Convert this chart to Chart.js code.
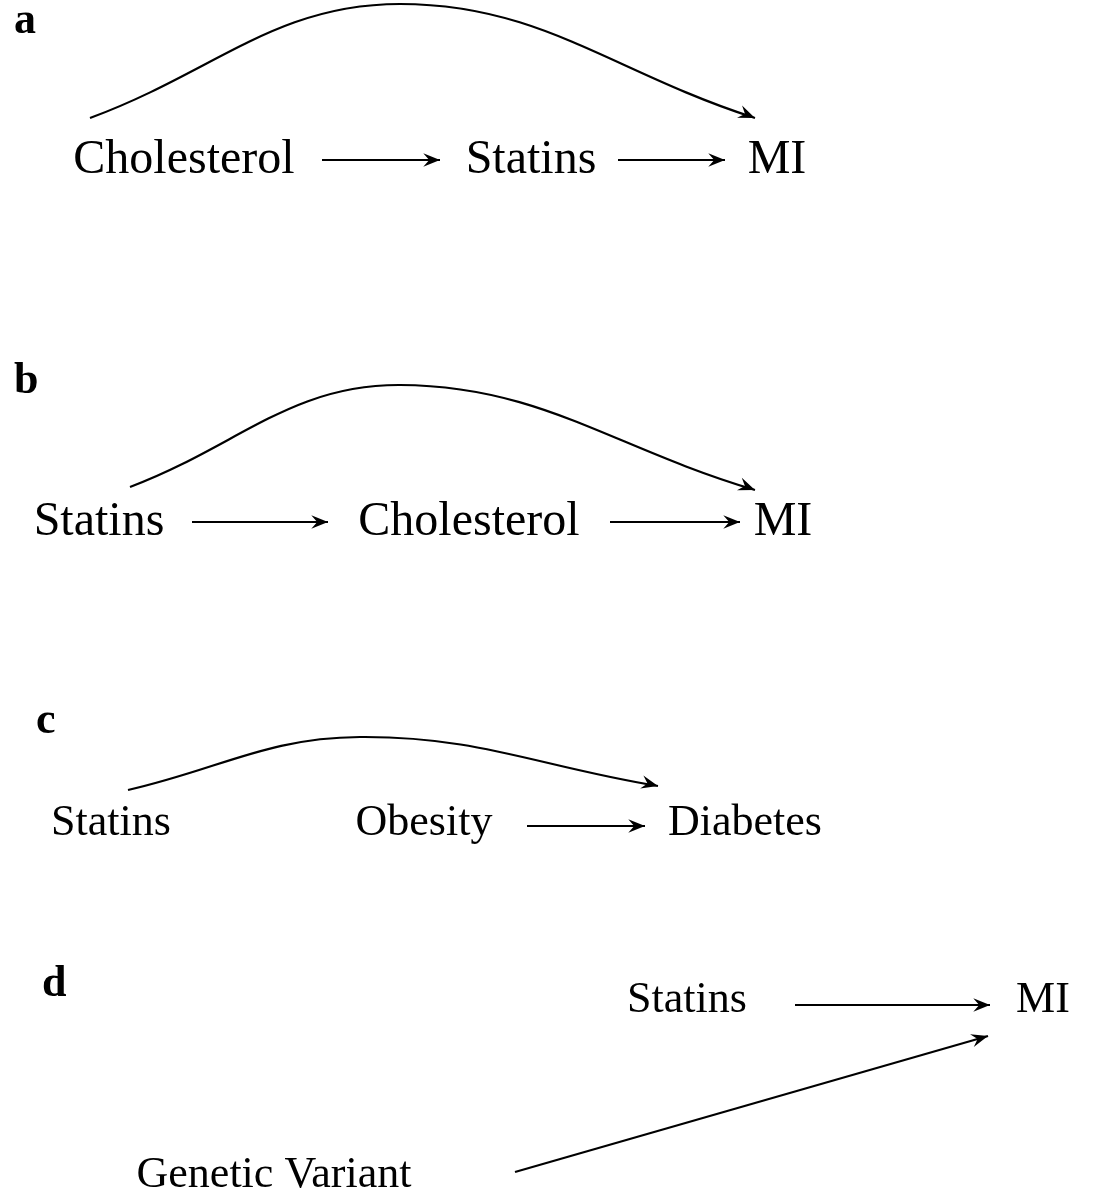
<!DOCTYPE html>
<html><head><meta charset="utf-8">
<script src="https://cdn.jsdelivr.net/npm/chart.js@4"></script>
<style>html,body{margin:0;padding:0;background:#fff}</style>
</head><body>
<canvas id="c" width="1093" height="1200"></canvas>
<script>
// panel letters
const panelLabels = [["a",14,22],["b",14,382],["c",36,722],["d",42,985]];
// node labels: text, center x, baseline-center y, font size
const nodes = [
 ["Cholesterol",184,160,48],["Statins",531,160,48],["MI",777,160,48],
 ["Statins",99,522,48],["Cholesterol",469,522,48],["MI",783,522,48],
 ["Statins",111,823,44],["Obesity",424,823,44],["Diabetes",745,823,44],
 ["Statins",687,1000,44],["MI",1043,1000,44],["Genetic Variant",274,1175,44]
];
// straight edges [x1,y1,x2,y2]
const edges = [
 [322,160,440,160],[618,160,725,160],
 [192,522,328,522],[610,522,740,522],
 [527,826,645,826],
 [795,1005,990,1005],[515,1172,988,1036]
];
// curved edges: start, peak, end
const curves = [
 [[90,118],[400,4],[755,118]],
 [[130,487],[400,385],[755,490]],
 [[128,790],[360,737],[658,786]]
];
const datasets = [];
edges.forEach(e=>datasets.push({data:[{x:e[0],y:e[1]},{x:e[2],y:e[3]}],showLine:true,pointRadius:0,borderColor:'#000',borderWidth:2.2,tension:0,arrow:true}));
curves.forEach(c=>datasets.push({data:c.map(p=>({x:p[0],y:p[1]})),showLine:true,pointRadius:0,borderColor:'#000',borderWidth:2.2,tension:0.4,cubicInterpolationMode:'default',arrow:true,curve:true}));
const deco = {id:'deco',afterDatasetsDraw(chart){
 const ctx=chart.ctx, xs=chart.scales.x, ys=chart.scales.y;
 ctx.save(); ctx.fillStyle='#000'; ctx.strokeStyle='#000'; ctx.lineWidth=2.2;
 chart.data.datasets.forEach(ds=>{
  const d=ds.data, n=d.length;
  const ex=xs.getPixelForValue(d[n-1].x), ey=ys.getPixelForValue(d[n-1].y);
  let ang;
  if(ds.curve){ ang=Math.atan2(d[n-1].y-d[n-2].y, d[n-1].x-d[n-2].x)+0.08; }
  else { ang=Math.atan2(ys.getPixelForValue(d[n-1].y)-ys.getPixelForValue(d[n-2].y), ex-xs.getPixelForValue(d[n-2].x)); }
  const L=18, w=0.38;
  ctx.beginPath();
  ctx.moveTo(ex,ey);
  ctx.lineTo(ex-L*Math.cos(ang-w), ey-L*Math.sin(ang-w));
  ctx.lineTo(ex-L*0.6*Math.cos(ang), ey-L*0.6*Math.sin(ang));
  ctx.lineTo(ex-L*Math.cos(ang+w), ey-L*Math.sin(ang+w));
  ctx.closePath(); ctx.fill();
 });
 ctx.textAlign='center'; ctx.textBaseline='middle';
 nodes.forEach(n=>{ctx.font=n[3]+'px "Liberation Serif", serif'; ctx.fillText(n[0],xs.getPixelForValue(n[1]),ys.getPixelForValue(n[2]));});
 ctx.textAlign='left';
 panelLabels.forEach(p=>{ctx.font='bold 44px "Liberation Serif", serif'; ctx.fillText(p[0],xs.getPixelForValue(p[1]),ys.getPixelForValue(p[2]));});
 ctx.restore();
}};
new Chart(document.getElementById('c'),{type:'scatter',data:{datasets},
 options:{responsive:false,animation:false,events:[],layout:{padding:0},
  plugins:{legend:{display:false},tooltip:{enabled:false}},
  scales:{x:{type:'linear',min:0,max:1093,display:false},y:{type:'linear',min:0,max:1200,reverse:true,display:false}}},
 plugins:[deco]});
</script>
</body></html>
